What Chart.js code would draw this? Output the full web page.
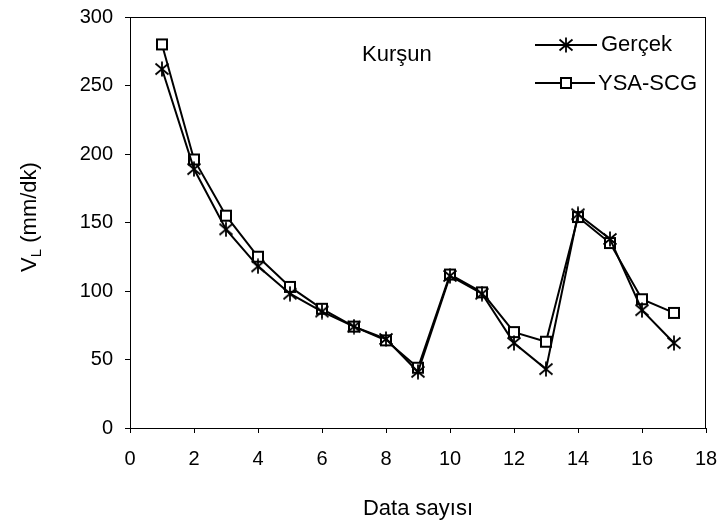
<!DOCTYPE html>
<html lang="tr">
<head>
  <meta charset="UTF-8" />
  <title>Kurşun</title>
  <script src="https://cdn.jsdelivr.net/npm/chart.js"></script>
  <style>
    body { margin: 0; background: #fff; }
    #wrap { width: 724px; height: 529px; }
  </style>
</head>
<body>
  <div id="wrap"><canvas id="chart" width="724" height="529"></canvas></div>
  <script>
    // data
    const dataNo = [1, 2, 3, 4, 5, 6, 7, 8, 9, 10, 11, 12, 13, 14, 15, 16, 17];
    const gercek = [262, 189, 145, 118, 98, 85, 74, 65, 41, 111, 98, 62, 43, 156, 138, 86, 62];
    const ysaScg = [280, 196, 155, 125, 103, 87, 74, 64, 44, 112, 99, 70, 63, 154, 135, 94, 84];
    const xTicks = [0, 2, 4, 6, 8, 10, 12, 14, 16, 18];
    const yTicks = [0, 50, 100, 150, 200, 250, 300];

    const FONT = '"Liberation Sans", Arial, sans-serif';

    function makeAsterisk() {
      const c = document.createElement('canvas');
      c.width = 16; c.height = 16;
      const g = c.getContext('2d');
      g.strokeStyle = '#000'; g.lineWidth = 1.8;
      g.beginPath();
      g.moveTo(1.5, 2.5); g.lineTo(14.5, 13.5);
      g.moveTo(14.5, 2.5); g.lineTo(1.5, 13.5);
      g.moveTo(8, 0.5); g.lineTo(8, 15.5);
      g.stroke();
      return c;
    }
    function makeSquare() {
      const c = document.createElement('canvas');
      c.width = 14; c.height = 14;
      const g = c.getContext('2d');
      g.fillStyle = '#fff';
      g.fillRect(1, 1, 12, 12);
      g.strokeStyle = '#000'; g.lineWidth = 2;
      g.strokeRect(2, 2, 10, 10);
      return c;
    }
    const starImg = makeAsterisk();
    const boxImg = makeSquare();

    const extras = {
      id: 'extras',
      afterDraw(chart) {
        const ctx = chart.ctx;
        const a = chart.chartArea;
        ctx.save();
        ctx.strokeStyle = '#000';
        ctx.lineWidth = 1;
        ctx.strokeRect(a.left + 0.5, a.top + 0.5, a.right - a.left - 1, a.bottom - a.top);

        ctx.fillStyle = '#000';
        ctx.textBaseline = 'middle';
        ctx.textAlign = 'left';
        // label inside plot
        ctx.font = '22px ' + FONT;
        ctx.fillText('Kurşun', 362, 55);

        // legend
        ctx.lineWidth = 2;
        ctx.beginPath();
        ctx.moveTo(535, 45); ctx.lineTo(597, 45);
        ctx.moveTo(535, 83); ctx.lineTo(595, 83);
        ctx.stroke();
        ctx.drawImage(starImg, 566 - 8, 45 - 8);
        ctx.drawImage(boxImg, 566 - 7, 83 - 7);
        ctx.fillText('Gerçek', 601, 45);
        ctx.fillText('YSA-SCG', 598, 84);

        // x title
        ctx.textAlign = 'center';
        ctx.fillText('Data sayısı', (a.left + a.right) / 2, 509);

        // y title with subscript
        ctx.translate(30, 217);
        ctx.rotate(-Math.PI / 2);
        const w1 = ctx.measureText('V').width;
        ctx.font = '15px ' + FONT;
        const w2 = ctx.measureText('L').width;
        ctx.font = '22px ' + FONT;
        const w3 = ctx.measureText(' (mm/dk)').width;
        let x = -(w1 + w2 + w3) / 2;
        ctx.textAlign = 'left';
        ctx.fillText('V', x, 0);
        x += w1;
        ctx.font = '15px ' + FONT;
        ctx.fillText('L', x, 7);
        x += w2;
        ctx.font = '22px ' + FONT;
        ctx.fillText(' (mm/dk)', x, 0);
        ctx.restore();
      }
    };

    new Chart(document.getElementById('chart'), {
      type: 'line',
      data: {
        datasets: [
          {
            label: 'Gerçek',
            data: dataNo.map((x, i) => ({ x, y: gercek[i] })),
            borderColor: '#000',
            borderWidth: 2,
            pointStyle: starImg,
            pointRadius: 8,
            tension: 0
          },
          {
            label: 'YSA-SCG',
            data: dataNo.map((x, i) => ({ x, y: ysaScg[i] })),
            borderColor: '#000',
            borderWidth: 2,
            pointStyle: boxImg,
            pointRadius: 7,
            tension: 0
          }
        ]
      },
      options: {
        responsive: false,
        animation: false,
        events: [],
        layout: { padding: { top: 17, right: 18, left: 0, bottom: 0 }, autoPadding: false },
        plugins: { legend: { display: false }, tooltip: { enabled: false } },
        scales: {
          x: {
            type: 'linear',
            min: 0, max: 18,
            afterFit(s) { s.height = 101; s.paddingLeft = 0; s.paddingRight = 0; },
            afterBuildTicks(s) { s.ticks = xTicks.map(v => ({ value: v })); },
            grid: { drawOnChartArea: false, drawTicks: true, tickLength: 5, color: '#000' },
            border: { display: true, color: '#000', width: 1 },
            ticks: { color: '#000', font: { family: FONT, size: 20 }, padding: 14, maxRotation: 0 }
          },
          y: {
            type: 'linear',
            min: 0, max: 300,
            afterFit(s) { s.width = 130; s.paddingTop = 0; s.paddingBottom = 0; },
            afterBuildTicks(s) { s.ticks = yTicks.map(v => ({ value: v })); },
            grid: { drawOnChartArea: false, drawTicks: true, tickLength: 5, color: '#000' },
            border: { display: true, color: '#000', width: 1 },
            ticks: { color: '#000', font: { family: FONT, size: 20 }, padding: 12 }
          }
        }
      },
      plugins: [extras]
    });
  </script>
</body>
</html>
